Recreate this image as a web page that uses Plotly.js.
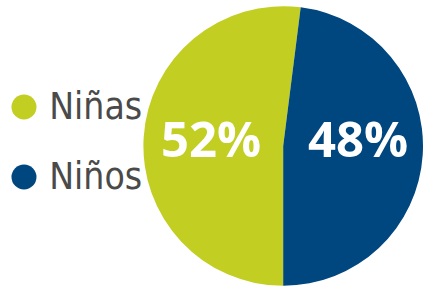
<!DOCTYPE html>
<html>
<head>
<meta charset="utf-8">
<script src="https://cdn.plot.ly/plotly-3.0.1.min.js"></script>
<style>html,body{margin:0;padding:0;background:#fff;}#chart{width:423px;height:287px;}</style>
</head>
<body>
<div id="chart"></div>
<script>
var labels = ['Niñas', 'Niños'];
var values = [52, 48];
var colors = ['#c2cf22', '#00467f'];

var total = values.reduce(function(a, b){ return a + b; }, 0);
var percentText = values.map(function(v){ return Math.round(v / total * 100) + '%'; });

var pie = {
  type: 'pie',
  labels: labels,
  values: values,
  sort: false,
  direction: 'clockwise',
  rotation: 180,
  marker: {colors: colors, line: {width: 0}},
  textinfo: 'none',
  textposition: 'none',
  hoverinfo: 'label+percent',
  showlegend: false,
  domain: {x: [0.339, 1.0], y: [0.0035, 0.979]}
};

var legendMarkers = {
  type: 'scatter',
  mode: 'markers',
  x: labels.map(function(){ return 0; }),
  y: labels,
  marker: {size: 25, color: colors, symbol: 'circle'},
  hoverinfo: 'skip',
  showlegend: false,
  cliponaxis: false,
  xaxis: 'x',
  yaxis: 'y'
};

var legendText = {
  type: 'scatter',
  mode: 'text',
  x: labels.map(function(){ return 1.05; }),
  y: labels,
  text: labels,
  textposition: 'middle right',
  textfont: {family: 'DejaVu Sans Condensed, Liberation Sans, sans-serif', size: 37, color: '#4a4a4a'},
  hoverinfo: 'skip',
  showlegend: false,
  cliponaxis: false,
  xaxis: 'x',
  yaxis: 'y2'
};

var pieAnnotations = labels.map(function(l, i){
  return {
    x: l, y: 0, xref: 'x2', yref: 'y3',
    text: percentText[i], showarrow: false,
    xanchor: 'center', yanchor: 'middle',
    font: {family: 'Open Sans, sans-serif', size: 49, color: '#ffffff', weight: 'bold'}
  };
});

var layout = {
  width: 423,
  height: 287,
  margin: {l: 0, r: 0, t: 0, b: 0},
  paper_bgcolor: '#ffffff',
  plot_bgcolor: 'rgba(0,0,0,0)',
  showlegend: false,
  xaxis: {domain: [0, 0.33], range: [-1, 4.82], visible: false, fixedrange: true},
  yaxis: {domain: [0, 1], type: 'category', range: [2.571, -1.529], visible: false, fixedrange: true},
  yaxis2: {domain: [0, 1], type: 'category', overlaying: 'y', range: [2.526, -1.574], visible: false, fixedrange: true},
  xaxis2: {domain: [0.339, 1.0], type: 'category', categoryarray: labels, categoryorder: 'array', range: [-0.46, 1.442], visible: false, fixedrange: true, anchor: 'y3'},
  yaxis3: {domain: [0, 1], range: [-149, 138], visible: false, fixedrange: true, anchor: 'x2'},
  annotations: pieAnnotations
};

Plotly.newPlot('chart', [pie, legendMarkers, legendText], layout, {displayModeBar: false, staticPlot: true});
</script>
</body>
</html>
